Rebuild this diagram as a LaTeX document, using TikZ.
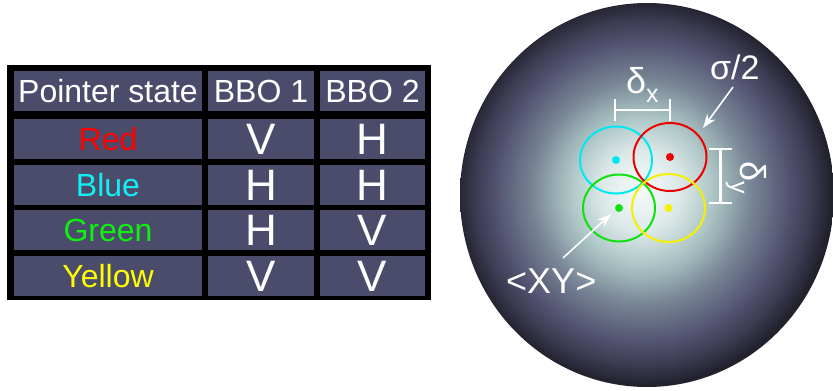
\documentclass[tikz,border=0pt]{standalone}
\usepackage{fontspec}
\setmainfont{Liberation Sans}
\usetikzlibrary{arrows.meta}

\definecolor{cellfill}{HTML}{4B4C6B}
\definecolor{txtred}{HTML}{FF0000}
\definecolor{txtcyan}{HTML}{10F0F4}
\definecolor{txtgreen}{HTML}{10F010}
\definecolor{txtyellow}{HTML}{FFFF00}
\definecolor{ringred}{HTML}{EE0000}
\definecolor{ringcyan}{HTML}{00E8F2}
\definecolor{ringgreen}{HTML}{10E010}
\definecolor{ringyellow}{HTML}{F4F000}

% beam profile colours, from the centre outwards
\definecolor{bp0}{HTML}{F4F8F8}
\definecolor{bp1}{HTML}{EAF2F2}
\definecolor{bp2}{HTML}{DCE8E8}
\definecolor{bp3}{HTML}{B0C8C8}
\definecolor{bp4}{HTML}{9CB2B6}
\definecolor{bp5}{HTML}{7A8898}
\definecolor{bp6}{HTML}{646A82}
\definecolor{bp7}{HTML}{525270}
\definecolor{bp8}{HTML}{3A3A50}
\definecolor{bp9}{HTML}{2A2A3A}
\definecolor{bp10}{HTML}{22222E}

% the path's bounding box spans the inner 50bp square of the shading,
% so the rim of the spot sits at 25bp
\pgfdeclareradialshading{beamspot}{\pgfpoint{-0.95bp}{0.65bp}}{%
  color(0bp)=(bp0); color(2.66bp)=(bp1); color(5.3bp)=(bp2);
  color(9.3bp)=(bp3); color(11.3bp)=(bp4); color(14.4bp)=(bp5);
  color(17.3bp)=(bp6); color(19.7bp)=(bp7); color(22.6bp)=(bp8);
  color(24.2bp)=(bp9); color(25bp)=(bp10); color(50bp)=(bp10)}

\tikzset{
  cell/.style={fill=cellfill, inner sep=0pt, text=white,
    text depth=0pt, align=center},
  colA/.style={cell, minimum width=188pt},
  colB/.style={cell, minimum width=106pt},
  colC/.style={cell, minimum width=105pt},
  hdr/.style={minimum height=40pt, text height=23pt, font=\fontsize{32}{36}\selectfont},
  namecell/.style={minimum height=40pt, text height=23pt, font=\fontsize{32}{36}\selectfont},
  polcell/.style={minimum height=40pt, text height=31.5pt, font=\fontsize{44}{48}\selectfont},
  ring/.style={line width=2pt},
  spotdot/.style={radius=4},
  bracket/.style={draw=white, line width=2.6pt},
  lbl/.style={text=white, inner sep=0pt},
  pointer/.style={draw=white, line width=1.6pt,
    -{Stealth[length=14pt,width=10pt]}},
}

\begin{document}
\begin{tikzpicture}[x=1pt,y=-1pt]
\useasboundingbox (0,0) rectangle (833,391);

% ---------------- table ----------------
\fill[black] (7,65) rectangle (431,300);

\node[colA,hdr] (h1) at (108,91) {Pointer state};
\node[colB,hdr] (h2) at (261,91) {BBO 1};
\node[colC,hdr] (h3) at (372.5,91) {BBO 2};

\node[colA,namecell,text=txtred]    (r1) at (108,138.5) {Red};
\node[colB,polcell]                 (r1a) at (261,138.5) {V};
\node[colC,polcell]                 (r1b) at (372.5,138.5) {H};

\node[colA,namecell,text=txtcyan]   (r2) at (108,184.5) {Blue};
\node[colB,polcell]                 (r2a) at (261,184.5) {H};
\node[colC,polcell]                 (r2b) at (372.5,184.5) {H};

\node[colA,namecell,text=txtgreen]  (r3) at (108,230) {Green};
\node[colB,polcell]                 (r3a) at (261,230) {H};
\node[colC,polcell]                 (r3b) at (372.5,230) {V};

\node[colA,namecell,text=txtyellow] (r4) at (108,275.5) {Yellow};
\node[colB,polcell]                 (r4a) at (261,275.5) {V};
\node[colC,polcell]                 (r4b) at (372.5,275.5) {V};

% ---------------- beam spot ----------------
\shade[shading=beamspot] (647,195) ellipse [x radius=187, y radius=192];

\coordinate (cC) at (616,160);
\coordinate (cR) at (670,157);
\coordinate (cG) at (619,208);
\coordinate (cY) at (668.5,208);

\draw[ring, ringcyan]   (cC) ellipse [x radius=36, y radius=33.5];
\draw[ring, ringred]    (cR) ellipse [x radius=36.5, y radius=34];
\draw[ring, ringgreen]  (cG) ellipse [x radius=36, y radius=33.5];
\draw[ring, ringyellow] (cY) ellipse [x radius=36.5, y radius=34];

\fill[ringcyan]   (cC) circle [spotdot];
\fill[ringred]    (cR) circle [spotdot];
\fill[ringgreen]  (cG) circle [spotdot];
\fill[ringyellow] (cY) circle [spotdot];

% separation brackets
\draw[bracket] (615,99) -- (615,121) (615,110) -- (670,110) (670,99) -- (670,121);
\draw[bracket] (709,149) -- (732,149) (720.5,149) -- (720.5,203) (709,203) -- (732,203);

% labels
\node[lbl, anchor=base west, font=\fontsize{36}{40}\selectfont] (dx) at (626,93)
  {δ\raisebox{-9pt}{\fontsize{25}{28}\selectfont x}};
\node[lbl, anchor=base west, rotate=-90, font=\fontsize{36}{40}\selectfont] (dy) at (740,161)
  {δ\raisebox{-9pt}{\fontsize{25}{28}\selectfont y}};
\node[lbl, anchor=base west, font=\fontsize{34}{38}\selectfont] (sig) at (710,79) {σ/2};
\node[lbl, anchor=base west, font=\fontsize{36}{40}\selectfont] (xy) at (506,293) {<XY>};

\coordinate (sigtail) at (733,87);
\coordinate (sigtip) at (703,128);
\coordinate (xytail) at (563,258);
\coordinate (xytip) at (611,214);
\draw[pointer] (sigtail) -- (sigtip);
\draw[pointer] (xytail) -- (xytip);
\end{tikzpicture}
\end{document}
